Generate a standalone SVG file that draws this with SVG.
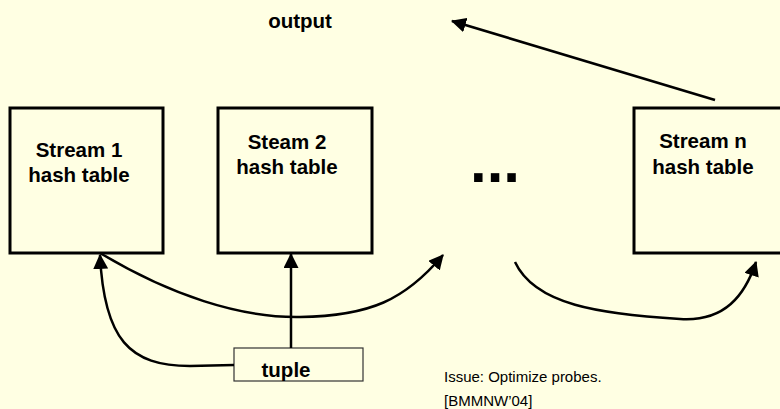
<svg xmlns="http://www.w3.org/2000/svg" width="780" height="409" viewBox="0 0 780 409">
  <defs>
    <marker id="arrow" markerUnits="userSpaceOnUse" markerWidth="15" markerHeight="15" viewBox="0 0 14 14" refX="13" refY="7" orient="auto">
      <path d="M0,0 L14,7 L0,14 z" fill="#000"/>
    </marker>
    <style>
      .table { fill: none; stroke: #000; stroke-width: 3; }
      .tuplebox { fill: none; stroke: #333; stroke-width: 1.2; }
      .bold { font-family: "Liberation Sans", Arial, sans-serif; font-weight: bold; font-size: 20.5px; fill: #000; }
      .note { font-family: "Liberation Sans", Arial, sans-serif; font-size: 15px; fill: #000; }
      .conn { fill: none; stroke: #000; stroke-width: 2.5; marker-end: url(#arrow); }
    </style>
  </defs>

  <rect width="780" height="409" fill="#FFFFE3"/>

  <g id="output">
    <text class="bold" x="300" y="28" text-anchor="middle">output</text>
  </g>

  <g id="stream1">
    <rect class="table" x="10" y="108" width="153" height="145"/>
    <text class="bold" x="79" y="157" text-anchor="middle">Stream 1</text>
    <text class="bold" x="79" y="182" text-anchor="middle">hash table</text>
  </g>

  <g id="stream2">
    <rect class="table" x="218" y="108" width="154" height="145"/>
    <text class="bold" x="287" y="149" text-anchor="middle">Steam 2</text>
    <text class="bold" x="287" y="174" text-anchor="middle">hash table</text>
  </g>

  <g id="ellipsis">
    <text class="bold" x="470" y="182" style="font-size:60px">...</text>
  </g>

  <g id="streamn">
    <rect class="table" x="634" y="108" width="160" height="145"/>
    <text class="bold" x="703" y="148" text-anchor="middle">Stream n</text>
    <text class="bold" x="703" y="174" text-anchor="middle">hash table</text>
  </g>

  <g id="tuple">
    <rect class="tuplebox" x="234" y="348" width="129" height="33"/>
    <text class="bold" x="286" y="377" text-anchor="middle">tuple</text>
  </g>

  <g id="note">
    <text class="note" x="444" y="382">Issue: Optimize probes.</text>
    <text class="note" x="444" y="406">[BMMNW’04]</text>
  </g>

  <g id="connectors">
    <path class="conn" d="M715,100 L452,21"/>
    <path class="conn" d="M291,348 L291,254"/>
    <path class="conn" d="M234,365 L190,366 C130,366 104,340 100,255"/>
    <path class="conn" d="M100,253 C170,295 240,318 300,317 C370,316 405,300 443,255"/>
    <path class="conn" d="M515,262 C535,305 600,314 680,319 C725,322 745,295 756,262"/>
  </g>
</svg>
